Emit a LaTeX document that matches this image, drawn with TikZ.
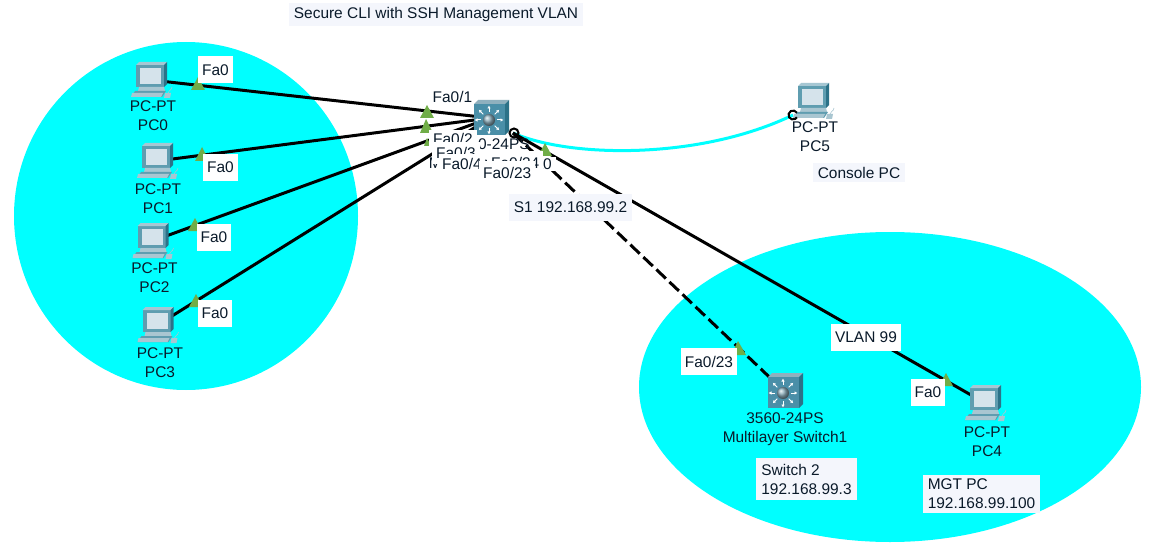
\documentclass[tikz,border=0pt]{standalone}
\usepackage{fontspec}
\setmainfont{Liberation Sans}
\usetikzlibrary{arrows.meta}
\definecolor{aqua}{HTML}{00FFFF}
\definecolor{tri}{HTML}{70AD47}
\definecolor{swf}{HTML}{4A8FA8}
\definecolor{swt}{HTML}{8FB0BE}
\definecolor{swd}{HTML}{2C7288}
\definecolor{pcb}{HTML}{5F9DB0}
\definecolor{pcs}{HTML}{D5E3EB}
\definecolor{pcl}{HTML}{A9C6D1}
\definecolor{note}{HTML}{F4F6FC}
\definecolor{txt}{HTML}{0A1A2A}
\tikzset{
 x=1pt,y=-1pt,
 pt/.style={font=\fontsize{15.45pt}{19pt}\selectfont,text=txt,inner sep=0pt},
 devlabel/.style={pt,align=center},
 fa/.style={pt,fill=white,inner xsep=4pt,inner ysep=0pt,minimum height=27pt},
 fb/.style={pt,fill=white,inner xsep=4pt,inner ysep=0pt,anchor=west},
 annot/.style={pt,fill=note,inner xsep=5pt,inner ysep=4pt,align=left},
 link/.style={line width=3pt,black},
 dev/.style={inner sep=0pt,minimum size=2pt},
 tripoint/.style={fill=tri,draw=none},
}
\newcommand{\pcicon}[1]{%
 \begin{scope}[shift={(#1)}]
  \fill[pcb] (-15,-15) -- (13,-15) -- (13,7) -- (-15,7) -- cycle;
  \fill[pcs!60!pcb] (16,-18) -- (-12,-18) -- (-15,-15) -- (13,-15) -- cycle;
  \fill[swd] (13,-15) -- (16,-18) -- (16,4) -- (13,7) -- cycle;
  \fill[pcs] (-11,-12) rectangle (10,4);
  \fill[pcl] (-12,7) -- (13,7) -- (14,11) -- (-13,11) -- cycle;
  \fill[pcb] (-16,11) -- (15,11) -- (11,17) -- (-20,17) -- cycle;
  \fill[pcl] (-19,13) -- (12,13) -- (10,17) -- (-20,17) -- cycle;
  \fill[pcl] (14,13) -- (20,13) -- (19,18) -- (13,18) -- cycle;
  \draw[pcl,line width=.6pt] (17,13) .. controls (19,9) and (22,9) .. (21,7);
 \end{scope}}
\newcommand{\swicon}[1]{%
 \begin{scope}[shift={(#1)}]
  \fill[swt] (-16,-14) -- (-12,-18) -- (19,-18) -- (15,-14) -- cycle;
  \fill[swd] (15,-14) -- (19,-18) -- (19,13) -- (15,17) -- cycle;
  \fill[swf] (-16,-14) rectangle (15,17);
  \begin{scope}[white,line width=1pt,-{Latex[length=3pt,width=3.5pt]}]
   \foreach \a in {0,45,...,315}{\draw ([shift={(\a:8)}]-1,2) -- ([shift={(\a:14.5)}]-1,2);}
  \end{scope}
  \shade[ball color=swt] (-1,2) circle (6);
 \end{scope}}
\begin{document}
\begin{tikzpicture}
\useasboundingbox (0,0) rectangle (1165,559);
\fill[white] (0,0) rectangle (1165,559);
\fill[aqua] (186,216) ellipse [x radius=172,y radius=174];
\fill[aqua] (890,387) ellipse [x radius=251,y radius=155];

\node[annot] (title) at (436,14.5) {Secure CLI with SSH Management VLAN};
\node[annot] (cpc) at (859,172.5) {Console PC};

% device anchors
\node[dev] (pc0) at (151,80) {};
\node[dev] (pc1) at (157,161) {};
\node[dev] (pc2) at (152.5,241) {};
\node[dev] (pc3) at (157.5,325) {};
\node[dev] (pc5) at (813,101) {};
\node[dev] (pc4) at (985,403) {};
\node[dev] (s0) at (490,118) {};
\node[dev] (s1) at (784,391) {};
\coordinate (nub) at (513,133);
\coordinate (cnub) at (793,115);

% links
\draw[link] (pc0) -- (s0);
\draw[link] (pc1) -- (s0);
\draw[link] (pc2) -- (s0);
\draw[link] (pc3) -- (s0);
\draw[aqua,line width=3pt] (nub) .. controls (570,158) and (700,160) .. (cnub);
\draw[link] (nub) -- (pc4);
\draw[link,dash pattern=on 13pt off 5pt] (nub) -- (s1);

\pcicon{151,80}
\pcicon{157,161}
\pcicon{152.5,241}
\pcicon{157.5,325}
\pcicon{813,101}
\pcicon{985,403}
\swicon{490,118}
\swicon{784,391}

\draw[black,line width=2pt] (514,133) circle (4.5);
\draw[black,line width=2pt] (796.9,112.75) arc (330:30:4.5);

% device labels
\node[devlabel] (l0) at (153,115.5) {PC-PT\\PC0};
\node[devlabel] (l1) at (158,199) {PC-PT\\PC1};
\node[devlabel] (l2) at (154.5,278) {PC-PT\\PC2};
\node[devlabel] (l3) at (160,363) {PC-PT\\PC3};
\node[devlabel] (l5) at (815,137) {PC-PT\\PC5};
\node[devlabel] (l4) at (987,441.5) {PC-PT\\PC4};
\node[devlabel] (ls1) at (785,429.5) {3560-24PS\\Multilayer Switch1};
\node[devlabel] (ls0) at (491,155) {3560-24PS\\Multilayer Switch0};

% link triangles
\fill[tripoint] (198,77) -- (205,90) -- (191,90) -- cycle;
\fill[tripoint] (202,147) -- (209,161) -- (195,161) -- cycle;
\fill[tripoint] (195,218) -- (202,231) -- (188,231) -- cycle;
\fill[tripoint] (196,294) -- (203,307) -- (189,307) -- cycle;
\fill[tripoint] (427,105) -- (434,118) -- (420,118) -- cycle;
\fill[tripoint] (426,119) -- (433,133) -- (420,133) -- cycle;
\fill[tripoint] (427,138) -- (431,146) -- (424,146) -- cycle;
\fill[tripoint] (545,143) -- (552,156) -- (538,156) -- cycle;
\fill[tripoint] (738,341) -- (746,355) -- (731,355) -- cycle;
\fill[tripoint] (946,373) -- (953,386) -- (939,386) -- cycle;

% interface labels
\node[fa] (f0) at (215.5,70) {Fa0};
\node[fa] (f1) at (220.5,167.5) {Fa0};
\node[fa] (f2) at (214,237.5) {Fa0};
\node[fa] (f3) at (215,313.5) {Fa0};
\node[pt,anchor=west] (f01) at (432.5,97) {Fa0/1};
\node[fb,minimum height=18pt] (f02) at (429,139) {Fa0/2};
\node[fb,minimum height=22pt] (f03) at (432,153) {Fa0/3};
\node[fb,minimum height=20pt,inner xsep=3pt] (f04) at (439,164) {Fa0/4};
\node[fb,minimum height=14pt] (fx) at (521,164) {Fa0};
\node[fb,minimum height=24pt] (f024) at (487,163) {Fa0/24};
\node[fb,minimum height=24pt] (f023) at (479,173) {Fa0/23};
\node[annot,minimum height=27pt] (s1ip) at (570.5,207) {S1 192.168.99.2};
\node[fa] (f123) at (709,361.5) {Fa0/23};
\node[fa] (vlan) at (866,337.5) {VLAN 99};
\node[fa] (f40) at (928,392.5) {Fa0};
\node[annot,inner ysep=6pt] (sw2) at (806.5,479) {Switch 2\\192.168.99.3};
\node[annot] (mgt) at (981.5,494) {MGT PC\\192.168.99.100};
\end{tikzpicture}
\end{document}
